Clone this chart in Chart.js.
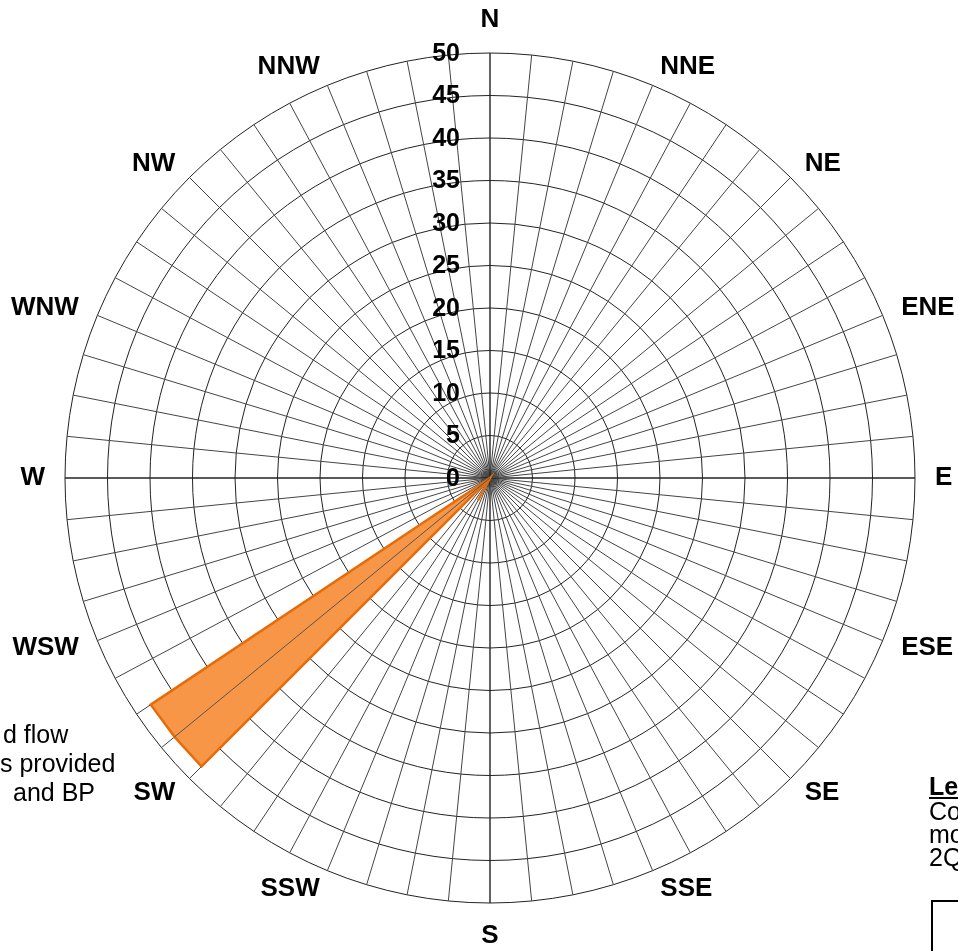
<!DOCTYPE html>
<html>
<head>
<meta charset="utf-8">
<script src="https://cdn.jsdelivr.net/npm/chart.js@4.4.1/dist/chart.umd.min.js"></script>
<style>
  html, body { margin: 0; padding: 0; background: #fff; overflow: hidden; }
  #wrap { position: relative; width: 958px; height: 951px; overflow: hidden; }
  #rose { position: absolute; left: 0; top: 0; }
  .note { position: absolute; font: 25px 'Liberation Sans', Arial, sans-serif; line-height: 25px; white-space: nowrap; color: #000; }
  .note b { text-decoration: underline; }
  #keybox { position: absolute; left: 931px; top: 900px; width: 60px; height: 80px; border: 2px solid #000; }
</style>
</head>
<body>
<div id="wrap">
  <canvas id="rose" width="958" height="951"></canvas>
  <!-- text boxes that are cut off by the picture edge -->
  <div class="note" style="left:3px;top:722px">d flow</div>
  <div class="note" style="left:0px;top:751px">s provided</div>
  <div class="note" style="left:13px;top:780px">and BP</div>
  <div class="note" style="left:929px;top:774px"><b>Le</b></div>
  <div class="note" style="left:929px;top:799px">Co</div>
  <div class="note" style="left:929px;top:822px">mo</div>
  <div class="note" style="left:929px;top:845px">2Q</div>
  <div id="keybox"></div>
</div>
<script>
document.addEventListener("DOMContentLoaded", () => {
  // === compass directions, one label every 4th spoke (64 spokes) ===
  const compass = ["N", "NNE", "NE", "ENE", "E", "ESE", "SE", "SSE",
                   "S", "SSW", "SW", "WSW", "W", "WNW", "NW", "NNW"];
  const spokesPerDir = 4;
  const labels = [];
  compass.forEach(d => {
    labels.push(d);
    for (let k = 1; k < spokesPerDir; k++) labels.push("");
  });

  // === wind frequency per spoke, starting at N going clockwise ===
  const windValues = [
    0, 0, 0, 0, 0, 0, 0, 0,   // N .. NE
    0, 0, 0, 0, 0, 0, 0, 0,   // NE .. E
    0, 0, 0, 0, 0, 0, 0, 0,   // E .. SE
    0, 0, 0, 0, 0, 0, 0, 0,   // SE .. S
    0, 0, 0, 0, 0, 3, 0, 0,   // S .. SW
    48, 48, 48, 0, 0, 0, 0, 0, // SW .. W
    0, 0, 0, 0, 0, 0, 0, 0,   // W .. NW
    0, 0, 0, 0, 0, 0, 0, 0    // NW .. N
  ];

  const tickValues = [0, 5, 10, 15, 20, 25, 30, 35, 40, 45, 50];
  const tickLabels = ["0", "5", "10", "15", "20", "25", "30", "35", "40", "45", "50"];

  const FONT = "'Liberation Sans', Arial, sans-serif";

  // spokes that lie inside the filled area are drawn again on top of it
  const innerSpokes = {
    id: "innerSpokes",
    afterDatasetsDraw(chart) {
      const s = chart.scales.r;
      const ctx = chart.ctx;
      const n = windValues.length;
      ctx.save();
      ctx.strokeStyle = "#555";
      ctx.lineWidth = 1;
      windValues.forEach((v, i) => {
        if (v > 0 && windValues[(i + n - 1) % n] > 0 && windValues[(i + 1) % n] > 0) {
          const p = s.getPointPosition(i, s.getDistanceFromCenterForValue(v));
          ctx.beginPath();
          ctx.moveTo(s.xCenter, s.yCenter);
          ctx.lineTo(p.x, p.y);
          ctx.stroke();
        }
      });
      ctx.restore();
    }
  };

  // draws the compass names and the radial tick numbers
  const roseText = {
    id: "roseText",
    afterDraw(chart) {
      const s = chart.scales.r;
      const ctx = chart.ctx;
      ctx.save();
      ctx.fillStyle = "#000";

      ctx.font = "bold 26px " + FONT;
      ctx.textBaseline = "middle";
      labels.forEach((name, i) => {
        if (!name) return;
        const p = s.getPointPosition(i, s.drawingArea + 20);
        const dx = (p.x - s.xCenter) / (s.drawingArea + 20);
        const dy = (p.y - s.yCenter) / (s.drawingArea + 20);
        ctx.textAlign = Math.abs(dx) < 0.01 ? "center" : (dx > 0 ? "left" : "right");
        const shift = Math.abs(dy) > 0.99 ? dy * 13 : 0;
        ctx.fillText(name, p.x, p.y + shift);
      });

      ctx.font = "bold 25px " + FONT;
      ctx.textAlign = "right";
      tickValues.forEach((v, i) => {
        const y = s.yCenter - s.getDistanceFromCenterForValue(v);
        ctx.fillText(tickLabels[i], s.xCenter - 30, y + 1);
      });
      ctx.restore();
    }
  };

  const canvas = document.getElementById("rose");
  new Chart(canvas.getContext("2d"), {
    type: "radar",
    data: {
      labels: labels,
      datasets: [{
        data: windValues,
        fill: true,
        backgroundColor: "#F79646",
        borderColor: "#E46C0A",
        borderWidth: 2.5,
        pointRadius: 0,
        tension: 0
      }]
    },
    options: {
      responsive: false,
      animation: false,
      layout: { padding: { left: 65, right: 43, top: 53, bottom: 48 } },
      plugins: { legend: { display: false }, tooltip: { enabled: false } },
      scales: {
        r: {
          min: 0,
          max: 50,
          ticks: { display: false, stepSize: 5 },
          pointLabels: { display: false },
          grid: { circular: true, color: "#222", lineWidth: 1 },
          angleLines: {
            color: c => (c.index % 16 === 0 ? "#222" : "#444"),
            lineWidth: c => (c.index % 16 === 0 ? 1.4 : 1)
          }
        }
      }
    },
    plugins: [innerSpokes, roseText]
  });
});
</script>
</body>
</html>
